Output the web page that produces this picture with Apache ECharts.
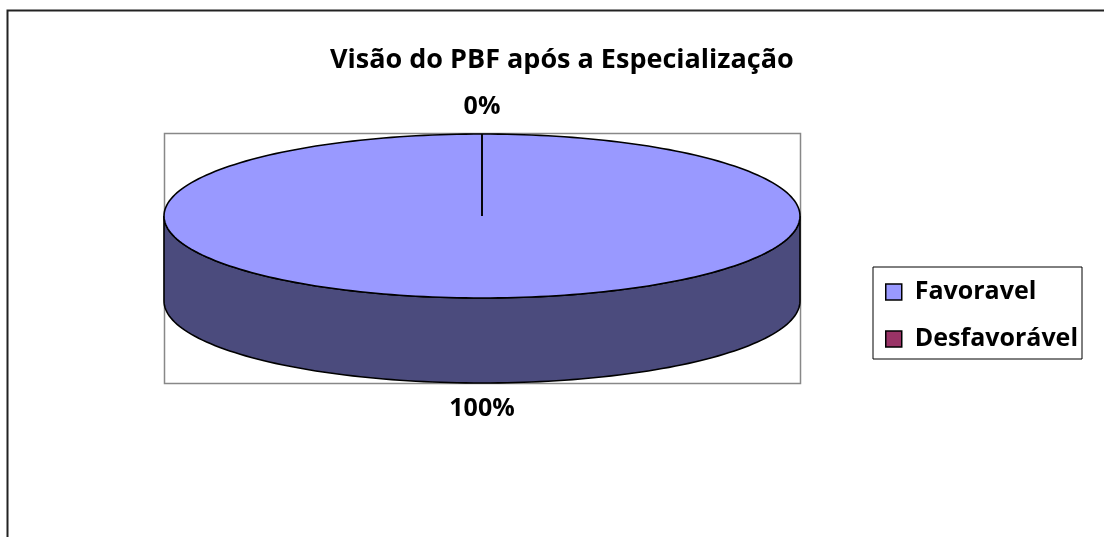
<!DOCTYPE html>
<html>
<head>
<meta charset="utf-8">
<script src="https://cdn.jsdelivr.net/npm/echarts@6/dist/echarts.min.js"></script>
<style>
  html, body { margin: 0; padding: 0; background: #fff; }
  #chart { width: 1104px; height: 537px; }
</style>
</head>
<body>
<div id="chart"></div>
<script>
// dados do grafico
var categories = ['Favoravel', 'Desfavorável'];
var values = [100, 0];
var sliceColors = ['#9999FF', '#993366'];
var sideColors = ['#4B4B7D', '#5C1F3D'];

var FONT = '"Open Sans", Lato, sans-serif';
var total = values.reduce(function (a, b) { return a + b; }, 0);

// geometria da pizza 3D
var cx = 482, cy = 216, rx = 318, ry = 82, depth = 85;

function pt(a, dy) {
  return [cx + rx * Math.sin(a), cy - ry * Math.cos(a) + (dy || 0)];
}
function arc(a0, a1, dy) {
  var pts = [], n = Math.max(2, Math.ceil((a1 - a0) / (Math.PI * 2) * 240));
  for (var i = 0; i <= n; i++) pts.push(pt(a0 + (a1 - a0) * i / n, dy));
  return pts;
}

function renderSlice(idx) {
  return function (params, api) {
    var v = api.value(0), start = api.value(1);
    var a0 = start / total * Math.PI * 2;
    var a1 = (start + v) / total * Math.PI * 2;
    var children = [];
    if (v > 0) {
      // lateral visivel (frente da pizza)
      var s = Math.max(a0, Math.PI / 2), e = Math.min(a1, Math.PI * 1.5);
      if (e > s) {
        var side = arc(s, e, 0).concat(arc(s, e, depth).reverse());
        children.push({
          type: 'polygon', z2: 1,
          shape: { points: side },
          style: { fill: sideColors[idx], stroke: '#000', lineWidth: 1.6 }
        });
      }
      var top = [[cx, cy]].concat(arc(a0, a1, 0));
      children.push({
        type: 'polygon', z2: 2,
        shape: { points: top },
        style: { fill: sliceColors[idx], stroke: '#000', lineWidth: 1.6 }
      });
    } else {
      var p = pt(a0, 0);
      children.push({
        type: 'line', z2: 3,
        shape: { x1: cx, y1: cy, x2: p[0], y2: p[1] },
        style: { stroke: '#000', lineWidth: 1.6 }
      });
    }
    // rotulo de porcentagem
    var mid = (a0 + a1) / 2;
    var c = Math.cos(mid);
    var lx = cx + (rx + 27) * Math.sin(mid);
    var ly = c >= 0 ? cy - (ry + 27) * c : cy + depth - (ry + 26) * c;
    children.push({
      type: 'text', z2: 4,
      style: {
        x: lx, y: ly,
        text: Math.round(v / total * 100) + '%',
        fill: '#000', font: 'bold 25px ' + FONT,
        align: 'center', verticalAlign: 'middle'
      }
    });
    return { type: 'group', children: children };
  };
}

var series = [], acc = 0;
categories.forEach(function (name, i) {
  series.push({
    type: 'custom',
    name: name,
    coordinateSystem: 'none',
    itemStyle: { color: sliceColors[i] },
    renderItem: renderSlice(i),
    data: [[values[i], acc]],
    silent: true
  });
  acc += values[i];
});

var chart = echarts.init(document.getElementById('chart'), null, { renderer: 'canvas' });
chart.setOption({
  animation: false,
  backgroundColor: '#fff',
  title: {
    text: 'Visão do PBF após a Especialização',
    left: 325,
    top: 42,
    textStyle: { fontFamily: FONT, fontWeight: 'bold', fontSize: 27, color: '#000' }
  },
  legend: {
    orient: 'vertical',
    left: 873,
    top: 267,
    padding: [11, 4, 6, 12],
    itemGap: 19,
    itemWidth: 16,
    itemHeight: 16,
    icon: 'rect',
    selectedMode: false,
    borderColor: '#000',
    borderWidth: 1,
    backgroundColor: '#fff',
    itemStyle: { borderColor: '#000', borderWidth: 1.5 },
    textStyle: {
      fontFamily: FONT, fontWeight: 'bold', fontSize: 25, color: '#000',
      lineHeight: 28, padding: [0, 0, 0, 8]
    },
    data: categories
  },
  graphic: [
    {
      type: 'rect', z: -1,
      shape: { x: 7.5, y: 10.5, width: 1300, height: 700 },
      style: { fill: 'none', stroke: '#222', lineWidth: 2 }
    },
    {
      type: 'rect', z: -1,
      shape: { x: 164.5, y: 133.5, width: 636, height: 250 },
      style: { fill: 'none', stroke: '#888', lineWidth: 1.5 }
    }
  ],
  series: series
});
</script>
</body>
</html>
